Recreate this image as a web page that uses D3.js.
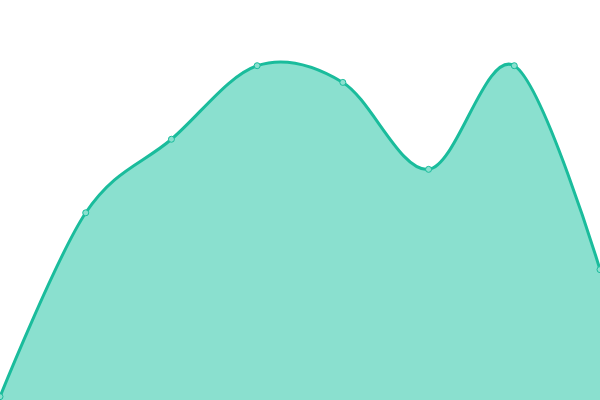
<!DOCTYPE html>
<html>
<head>
<meta charset="utf-8">
<script src="https://cdn.jsdelivr.net/npm/d3@7"></script>
<style>
  body { margin: 0; background: #fff; }
  svg { display: block; }
</style>
</head>
<body>
<div id="chart"></div>
<script>
//data
const categories = ["A", "B", "C", "D", "E", "F", "G", "H"];
const values = [1, 56, 78, 100, 95, 69, 100, 39];

const width = 600, height = 400;

const x = d3.scalePoint()
    .domain(categories)
    .range([0, width]);

const y = d3.scaleLinear()
    .domain([0, 100])
    .range([height, 65.7]);

const svg = d3.select("#chart")
  .append("svg")
    .attr("width", width)
    .attr("height", height);

const data = categories.map((c, i) => ({cat: c, value: values[i]}));

const curve = d3.curveCardinal.tension(0);

//area fill
const area = d3.area()
    .x(d => x(d.cat))
    .y0(height)
    .y1(d => y(d.value))
    .curve(curve);

svg.append("path")
    .datum(data)
    .attr("d", area)
    .attr("fill", "#8ae0cf");

//line on top
const line = d3.line()
    .x(d => x(d.cat))
    .y(d => y(d.value))
    .curve(curve);

svg.append("path")
    .datum(data)
    .attr("d", line)
    .attr("fill", "none")
    .attr("stroke", "#1abc9c")
    .attr("stroke-width", 3);

//points
svg.selectAll("circle")
  .data(data)
  .enter()
  .append("circle")
    .attr("cx", d => x(d.cat))
    .attr("cy", d => y(d.value))
    .attr("r", 3)
    .attr("fill", "#8ae0cf")
    .attr("stroke", "#1abc9c")
    .attr("stroke-width", 1);
</script>
</body>
</html>
